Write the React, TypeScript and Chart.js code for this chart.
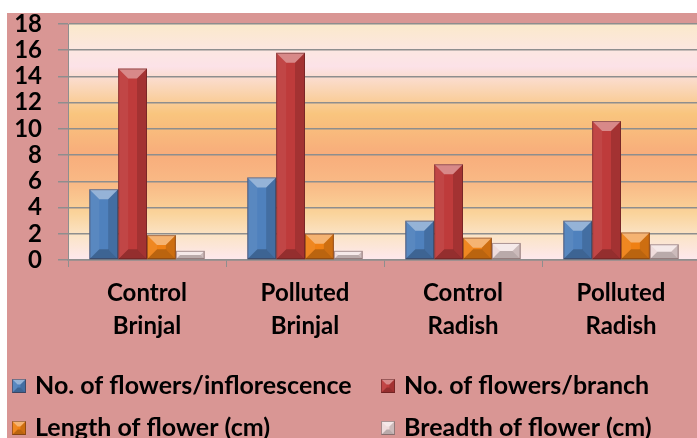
import React, { useEffect, useRef } from 'react';
import { Chart, registerables } from 'chart.js';

Chart.register(...registerables);

const categories = [
  ['Control', 'Brinjal'],
  ['Polluted', 'Brinjal'],
  ['Control', 'Radish'],
  ['Polluted', 'Radish'],
];
const seriesNames = [
  'No. of flowers/inflorescence',
  'No. of flowers/branch',
  'Length of flower (cm)',
  'Breadth of flower (cm)',
];
const flowersPerInflorescence = [5.4, 6.3, 3.0, 3.0];
const flowersPerBranch = [14.6, 15.8, 7.3, 10.6];
const flowerLength = [1.9, 2.0, 1.7, 2.1];
const flowerBreadth = [0.7, 0.7, 1.3, 1.2];
const yMin = 0;
const yMax = 18;
const yStep = 2;

const seriesColors = ['#4F81BD', '#BE3B3B', '#EF8014', '#EEDADA'];
const FONT = 'Lato, "DejaVu Sans", sans-serif';
const GRID = '#8E8E8E';

function poly(ctx: CanvasRenderingContext2D, pts: number[][], fill: string) {
  ctx.beginPath();
  ctx.moveTo(pts[0][0], pts[0][1]);
  for (let i = 1; i < pts.length; i++) ctx.lineTo(pts[i][0], pts[i][1]);
  ctx.closePath();
  ctx.fillStyle = fill;
  ctx.fill();
}

function drawBevel(ctx: CanvasRenderingContext2D, x0: number, y0: number, x1: number, y1: number) {
  const w = x1 - x0;
  const h = y1 - y0;
  if (w <= 0 || h <= 0) return;
  const b = Math.min(w * 0.4, h / 2, 10);
  ctx.save();
  poly(ctx, [[x0, y0], [x1, y0], [x1 - b, y0 + b], [x0 + b, y0 + b]], 'rgba(255,255,255,0.4)');
  poly(ctx, [[x0, y1], [x1, y1], [x1 - b, y1 - b], [x0 + b, y1 - b]], 'rgba(0,0,0,0.22)');
  poly(ctx, [[x0, y0], [x0 + b, y0 + b], [x0 + b, y1 - b], [x0, y1]], 'rgba(255,255,255,0.06)');
  poly(ctx, [[x1, y0], [x1 - b, y0 + b], [x1 - b, y1 - b], [x1, y1]], 'rgba(0,0,0,0.14)');
  ctx.strokeStyle = 'rgba(60,20,20,0.4)';
  ctx.lineWidth = 1;
  ctx.strokeRect(x0 + 0.5, y0 + 0.5, w - 1, h - 1);
  ctx.restore();
}

const backgroundPlugin = {
  id: 'plotBackground',
  beforeDraw(chart: any) {
    const { ctx, chartArea } = chart;
    ctx.save();
    ctx.fillStyle = '#D99694';
    ctx.fillRect(0, 0, chart.width, chart.height);
    const g = ctx.createLinearGradient(0, chartArea.top, 0, chartArea.bottom);
    g.addColorStop(0, '#FBE9CB');
    g.addColorStop(0.12, '#FCE6E2');
    g.addColorStop(0.18, '#FCE2E8');
    g.addColorStop(0.26, '#FAD8BE');
    g.addColorStop(0.38, '#F9C57E');
    g.addColorStop(0.55, '#F8AD7B');
    g.addColorStop(0.68, '#F9BA86');
    g.addColorStop(0.8, '#FAD39A');
    g.addColorStop(0.9, '#FBE4C8');
    g.addColorStop(1, '#FDE8EE');
    ctx.fillStyle = g;
    ctx.fillRect(chartArea.left, chartArea.top, chartArea.right - chartArea.left, chartArea.bottom - chartArea.top);
    ctx.restore();
  },
};

const bevelPlugin = {
  id: 'bevel',
  afterDatasetsDraw(chart: any) {
    const ctx = chart.ctx;
    chart.data.datasets.forEach((_ds: any, i: number) => {
      const meta = chart.getDatasetMeta(i);
      meta.data.forEach((bar: any) => {
        const { x, y, base, width } = bar.getProps(['x', 'y', 'base', 'width'], true);
        drawBevel(ctx, x - width / 2, Math.min(y, base), x + width / 2, Math.max(y, base));
      });
    });
  },
};

const legendPlugin = {
  id: 'gridLegend',
  afterDraw(chart: any) {
    const ctx = chart.ctx;
    const slots = [
      [5, 373],
      [374, 373],
      [5, 415],
      [374, 415],
    ];
    ctx.save();
    chart.data.datasets.forEach((ds: any, i: number) => {
      const [sx, cy] = slots[i];
      const s = 14;
      ctx.fillStyle = ds.backgroundColor;
      ctx.fillRect(sx, cy - s / 2, s, s);
      drawBevel(ctx, sx, cy - s / 2, sx + s, cy + s / 2);
      ctx.fillStyle = '#000000';
      ctx.font = `bold 25px ${FONT}`;
      ctx.textBaseline = 'middle';
      ctx.textAlign = 'left';
      ctx.fillText(ds.label, sx + 23, cy);
    });
    ctx.restore();
  },
};

export default function App() {
  const canvasRef = useRef<HTMLCanvasElement | null>(null);

  useEffect(() => {
    const canvas = canvasRef.current;
    if (!canvas) return;
    const values = [flowersPerInflorescence, flowersPerBranch, flowerLength, flowerBreadth];
    const chart = new Chart(canvas, {
      type: 'bar',
      data: {
        labels: categories,
        datasets: seriesNames.map((name, i) => ({
          label: name,
          data: values[i],
          backgroundColor: seriesColors[i],
          borderWidth: 0,
          categoryPercentage: 0.73,
          barPercentage: 1.0,
        })),
      },
      options: {
        responsive: false,
        animation: false,
        devicePixelRatio: 1,
        layout: { autoPadding: false, padding: { left: 0, right: 7, top: 11, bottom: 0 } },
        plugins: {
          legend: { display: false },
          tooltip: { enabled: false },
        },
        scales: {
          x: {
            afterFit: (scale: any) => {
              scale.height = 178;
            },
            grid: {
              display: true,
              drawOnChartArea: false,
              offset: true,
              tickLength: 7,
              color: GRID,
            },
            border: { display: true, color: GRID, width: 1.5 },
            ticks: {
              color: '#000000',
              padding: 10,
              autoSkip: false,
              maxRotation: 0,
              font: { family: FONT, size: 24, weight: 'bold', lineHeight: 1.36 },
            },
          },
          y: {
            min: yMin,
            max: yMax,
            afterFit: (scale: any) => {
              scale.width = 61;
              scale.paddingTop = 0;
              scale.paddingBottom = 0;
            },
            ticks: {
              stepSize: yStep,
              autoSkip: false,
              color: '#000000',
              padding: 16,
              font: { family: FONT, size: 24, weight: 'bold', lineHeight: 1 },
            },
            grid: { color: GRID, lineWidth: 1.5, tickLength: 10 },
            border: { display: true, color: GRID, width: 1 },
          },
        },
      },
      plugins: [backgroundPlugin, bevelPlugin, legendPlugin],
    });
    return () => chart.destroy();
  }, []);

  return (
    <div
      style={{
        position: 'absolute',
        left: 7,
        top: 13,
        width: 690,
        height: 425,
        overflow: 'hidden',
        background: '#D99694',
      }}
    >
      <canvas ref={canvasRef} width={700} height={425} style={{ display: 'block' }} />
    </div>
  );
}
